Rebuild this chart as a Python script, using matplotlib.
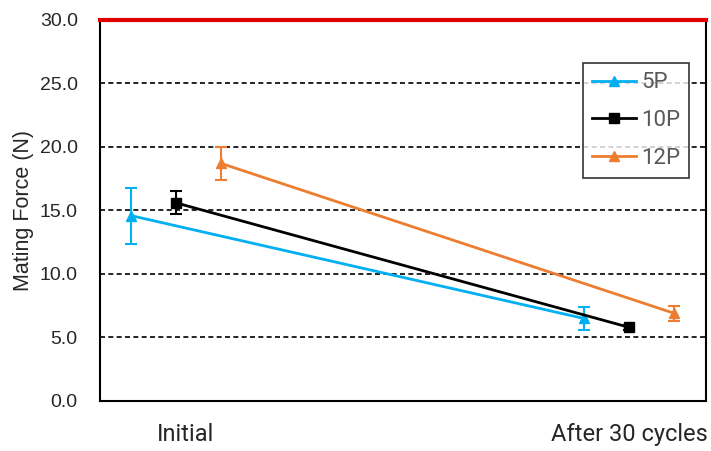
import matplotlib.pyplot as plt
from matplotlib.lines import Line2D
import numpy as np

categories = ['Initial', 'After 30 cycles']
series = ['5P', '10P', '12P']
mean_5p = [14.6, 6.5]
err_5p = [2.2, 0.9]
mean_10p = [15.6, 5.8]
err_10p = [0.9, 0.2]
mean_12p = [18.7, 6.9]
err_12p = [1.3, 0.6]

colors = ['#00B0F0', '#000000', '#ED7D31']
markers = ['^', 's', '^']
offsets = [-0.1, 0.0, 0.1]

fig = plt.figure(figsize=(7.11, 4.51), dpi=100)
ax = fig.add_axes([0.1406, 0.1109, 0.8524, 0.8448])

x = np.arange(len(categories))
data = [(mean_5p, err_5p), (mean_10p, err_10p), (mean_12p, err_12p)]
handles = []
for (m, e), name, c, mk, off in zip(data, series, colors, markers, offsets):
    ax.errorbar(x + off, m, yerr=e, color=c, marker=mk, markersize=7,
                linewidth=2, capsize=4, elinewidth=1.5, capthick=1.5)
    handles.append(Line2D([], [], color=c, marker=mk, markersize=7, linewidth=2, label=name))

ax.set_xlim(-0.168, 1.17)
ax.set_ylim(0, 30)
ax.set_yticks(np.arange(0, 31, 5))
ax.set_yticklabels(['{:.1f}'.format(v) for v in np.arange(0, 31, 5)],
                   fontfamily='Liberation Sans', fontsize=14, color='#262626')
ax.set_xticks([0.02, 1.0])
ax.set_xticklabels(categories, fontfamily='Roboto', fontsize=17, color='#262626')
ax.tick_params(axis='both', length=0)
ax.tick_params(axis='x', pad=16)
ax.tick_params(axis='y', pad=16)
ax.set_ylabel('Mating Force (N)', fontfamily='Liberation Sans', fontsize=15.5,
              color='#262626', labelpad=4)

for v in range(5, 30, 5):
    ax.axhline(v, color='black', linestyle=(0, (3, 2)), linewidth=1.2, zorder=0)

for s in ['left', 'right', 'bottom']:
    ax.spines[s].set_color('black')
    ax.spines[s].set_linewidth(1.5)
ax.spines['top'].set_color('#E00000')
ax.spines['top'].set_linewidth(3)

leg = ax.legend(handles=handles, loc='upper right', bbox_to_anchor=(0.99, 0.915),
                frameon=True, fancybox=False, edgecolor='black',
                prop={'family': 'Roboto', 'size': 16},
                handlelength=2.0, labelspacing=0.75, borderpad=0.4, handletextpad=0.2)
leg.get_frame().set_linewidth(1.2)
for t in leg.get_texts():
    t.set_color('#595959')

fig.savefig('out.png', dpi=100)
